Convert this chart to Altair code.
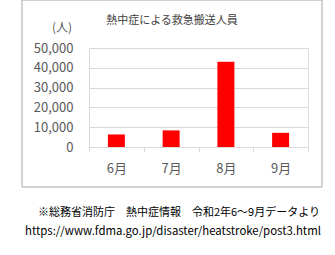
import altair as alt
import pandas as pd

months = ["6月", "7月", "8月", "9月"]
values = [6336, 8388, 43060, 7157]
title_text = "熱中症による救急搬送人員"
unit_text = "(人)"
note1 = "※総務省消防庁　熱中症情報　令和2年6～9月データより"
note2 = "https://www.fdma.go.jp/disaster/heatstroke/post3.html"
y_ticks = [0, 10000, 20000, 30000, 40000, 50000]

FONT = "Noto Sans CJK JP"

df = pd.DataFrame({"month": months, "value": values})
one = pd.DataFrame({"k": [0]})

border = alt.Chart(one).mark_rect(fill="white", fillOpacity=0, stroke="#a6a6a6", strokeWidth=1).encode(
    x=alt.value(-67), x2=alt.value(233), y=alt.value(-48), y2=alt.value(139)
)

bars = alt.Chart(df).mark_bar(color="#ff0000", size=17).encode(
    x=alt.X("month:N", sort=months, title=None,
            scale=alt.Scale(paddingInner=0, paddingOuter=0),
            axis=alt.Axis(labelAngle=0, tickBand="extent", tickSize=5,
                          tickColor="#d9d9d9", domainColor="#d9d9d9",
                          labelColor="#595959", labelFontSize=13, labelFont=FONT,
                          labelPadding=10, grid=False)),
    y=alt.Y("value:Q", title=None,
            scale=alt.Scale(domain=[0, 50000], nice=False),
            axis=alt.Axis(values=y_ticks, format=",.0f", tickSize=0, labelPadding=16,
                          labelColor="#595959", labelFontSize=13, labelFont=FONT,
                          gridColor="#d9d9d9", domain=True, domainColor="#d9d9d9")),
)

title = alt.Chart(one).mark_text(text=title_text, font=FONT, fontSize=11,
                                 color="#404040", align="center", baseline="middle").encode(
    x=alt.value(83), y=alt.value(-27))
unit = alt.Chart(one).mark_text(text=unit_text, font=FONT, fontSize=12,
                                color="#595959", align="right", baseline="middle").encode(
    x=alt.value(-17), y=alt.value(-20))
n1 = alt.Chart(one).mark_text(text=note1, font=FONT, fontSize=11,
                              color="#000000", align="right", baseline="middle").encode(
    x=alt.value(231), y=alt.value(165))
n2 = alt.Chart(one).mark_text(text=note2, font=FONT, fontSize=11.4,
                              color="#000000", align="left", baseline="middle").encode(
    x=alt.value(-64), y=alt.value(184))

chart = alt.layer(border, bars, title, unit, n1, n2).properties(
    width=219, height=99,
    autosize=alt.AutoSizeParams(type="none"),
    padding={"left": 89, "top": 48, "right": 27, "bottom": 108},
).configure_view(stroke="#d9d9d9").configure(background="white")

chart.save("out.html", embed_options={"renderer": "svg", "actions": False})
